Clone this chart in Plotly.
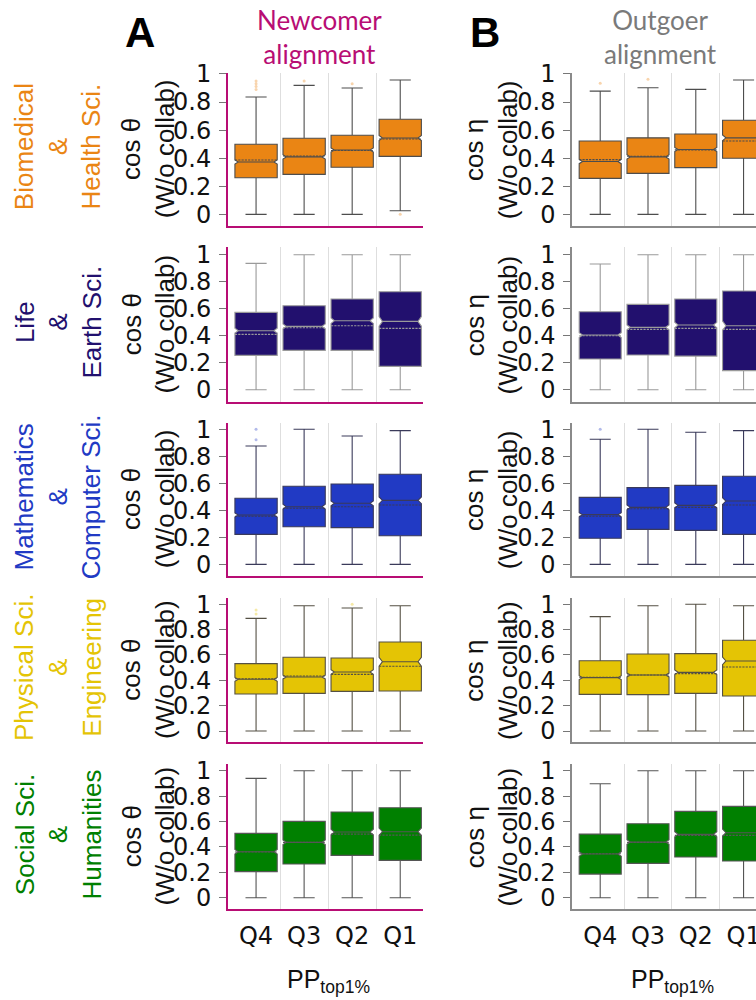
import plotly.graph_objects as go

# ---------------- data ----------------
categories = ["Q4", "Q3", "Q2", "Q1"]
field_labels = [
    "Biomedical<br>&<br>Health Sci.",
    "Life<br>&<br>Earth Sci.",
    "Mathematics<br>&<br>Computer Sci.",
    "Physical Sci.<br>&<br>Engineering",
    "Social Sci.<br>&<br>Humanities",
]
field_colors = ["#EA8514", "#22106E", "#213AC4", "#E4C405", "#008000"]
outline_colors = ["#4d4d4d", "#9a9a9a", "#3a3a5a", "#555044", "#555555"]

# Newcomer alignment (cos theta), rows = fields, cols = Q4..Q1
new_lower = [[0, 0, 0, 0.026], [0, 0, 0, 0], [0, 0, 0, 0], [0, 0, 0, 0], [0, 0, 0, 0]]
new_q1 = [[0.261, 0.285, 0.335, 0.413], [0.254, 0.291, 0.291, 0.173], [0.222, 0.279, 0.272, 0.212],
          [0.292, 0.297, 0.313, 0.316], [0.205, 0.265, 0.333, 0.294]]
new_median = [[0.373, 0.409, 0.458, 0.544], [0.437, 0.469, 0.511, 0.506], [0.365, 0.427, 0.452, 0.474],
              [0.408, 0.426, 0.466, 0.547], [0.362, 0.436, 0.517, 0.520]]
new_mean = [[0.387, 0.416, 0.455, 0.537], [0.410, 0.459, 0.474, 0.454], [0.356, 0.415, 0.427, 0.440],
            [0.413, 0.434, 0.447, 0.511], [0.360, 0.436, 0.501, 0.493]]
new_q3 = [[0.499, 0.542, 0.563, 0.677], [0.573, 0.622, 0.672, 0.726], [0.489, 0.578, 0.595, 0.667],
          [0.532, 0.582, 0.576, 0.703], [0.507, 0.601, 0.675, 0.709]]
new_upper = [[0.836, 0.919, 0.900, 0.957], [0.936, 1.0, 1.0, 1.0], [0.877, 1.0, 0.951, 0.990],
             [0.889, 0.989, 0.971, 0.989], [0.940, 1.0, 1.0, 1.0]]
new_notch = [[0.015, 0.015, 0.015, 0.018], [0.018, 0.018, 0.020, 0.035], [0.015, 0.018, 0.018, 0.025],
             [0.015, 0.015, 0.018, 0.035], [0.018, 0.018, 0.022, 0.028]]

# Outgoer alignment (cos eta)
out_lower = [[0, 0, 0, 0], [0, 0, 0, 0], [0, 0, 0, 0], [0, 0, 0, 0], [0, 0, 0, 0]]
out_q1 = [[0.256, 0.292, 0.333, 0.400], [0.227, 0.257, 0.249, 0.141], [0.193, 0.259, 0.252, 0.222],
          [0.289, 0.287, 0.297, 0.276], [0.186, 0.270, 0.320, 0.289]]
out_median = [[0.376, 0.409, 0.462, 0.545], [0.405, 0.462, 0.479, 0.474], [0.368, 0.422, 0.437, 0.469],
              [0.421, 0.442, 0.463, 0.553], [0.344, 0.438, 0.499, 0.512]]
out_mean = [[0.390, 0.414, 0.459, 0.522], [0.400, 0.447, 0.454, 0.447], [0.356, 0.412, 0.422, 0.440],
            [0.424, 0.442, 0.453, 0.505], [0.346, 0.436, 0.491, 0.491]]
out_q3 = [[0.522, 0.545, 0.572, 0.670], [0.578, 0.632, 0.672, 0.731], [0.496, 0.568, 0.585, 0.652],
          [0.555, 0.608, 0.611, 0.716], [0.501, 0.583, 0.680, 0.719]]
out_upper = [[0.878, 0.902, 0.890, 0.957], [0.931, 1.0, 1.0, 1.0], [0.926, 1.0, 0.978, 0.990],
             [0.903, 0.989, 1.0, 0.989], [0.898, 1.0, 1.0, 1.0]]
out_notch = [[0.015, 0.015, 0.015, 0.020], [0.018, 0.018, 0.020, 0.035], [0.015, 0.018, 0.018, 0.025],
             [0.015, 0.015, 0.018, 0.030], [0.018, 0.018, 0.020, 0.028]]

# faint outliers: (field row, category, value)
new_outliers = [(0, "Q4", 0.89), (0, "Q4", 0.91), (0, "Q4", 0.93), (0, "Q4", 0.95), (0, "Q3", 0.95),
                (0, "Q2", 0.93), (0, "Q1", 0.0), (2, "Q4", 0.923), (2, "Q4", 1.0),
                (3, "Q4", 0.924), (3, "Q4", 0.955), (3, "Q2", 1.0)]
out_outliers = [(0, "Q4", 0.933), (0, "Q3", 0.962), (2, "Q4", 1.0)]

y_ticks = [0, 0.2, 0.4, 0.6, 0.8, 1.0]
y_ticktext = ["0", "0.2", "0.4", "0.6", "0.8", "1"]

# ---------------- layout geometry ----------------
W, H = 756, 1000
MAGENTA = "#B80D74"
GREY_AX = "#8a8a8a"
row_px = [(72.7, 225.7), (247.3, 401.7), (422.7, 575.7), (597.7, 742.3), (764.0, 909.0)]
row_ranges = [(-0.081, 1.009), (-0.089, 1.055), (-0.084, 1.049), (-0.089, 1.052), (-0.089, 1.053)]
col_px = [(228.0, 423.3), (572.3, 756.0)]
col_xrange = [(-0.584, 3.48), (-0.584, 3.26)]

fig = go.Figure()
layout = {}
annotations = []
xpos = list(range(len(categories)))

cols = [
    dict(lower=new_lower, q1=new_q1, med=new_median, mean=new_mean, q3=new_q3, upper=new_upper,
         notch=new_notch, outl=new_outliers, axcol=MAGENTA, ytitle="cos θ"),
    dict(lower=out_lower, q1=out_q1, med=out_median, mean=out_mean, q3=out_q3, upper=out_upper,
         notch=out_notch, outl=out_outliers, axcol=GREY_AX, ytitle="cos η"),
]

idx = 0
for r in range(5):
    for c in range(2):
        idx += 1
        sfx = "" if idx == 1 else str(idx)
        d = cols[c]
        fig.add_trace(go.Box(
            x=xpos,
            lowerfence=d["lower"][r], q1=d["q1"][r], median=d["med"][r], mean=d["mean"][r],
            q3=d["q3"][r], upperfence=d["upper"][r], notchspan=d["notch"][r],
            notched=True, notchwidth=0.08, boxmean=True, width=0.88, whiskerwidth=0.5,
            fillcolor=field_colors[r], line=dict(color=outline_colors[r], width=1.1),
            xaxis="x" + sfx, yaxis="y" + sfx, showlegend=False, hoverinfo="skip",
        ))
        ox = [categories.index(o[1]) for o in d["outl"] if o[0] == r]
        oy = [o[2] for o in d["outl"] if o[0] == r]
        if ox:
            fig.add_trace(go.Scatter(
                x=ox, y=oy, mode="markers",
                marker=dict(size=3, color=field_colors[r], opacity=0.35),
                xaxis="x" + sfx, yaxis="y" + sfx, showlegend=False, hoverinfo="skip",
            ))
        top, bot = row_px[r]
        left, right = col_px[c]
        layout["xaxis" + sfx] = dict(
            domain=[left / W, right / W], range=list(col_xrange[c]), anchor="y" + sfx,
            automargin=False,
            showline=True, linecolor=d["axcol"], linewidth=2,
            tickmode="array", tickvals=xpos, ticktext=categories,
            showticklabels=(r == 4), ticks="", ticklabelstandoff=4, ticklabeloverflow="allow",
            tickfont=dict(family="DejaVu Sans", size=24, color="#111"),
            showgrid=False, zeroline=False,
            minor=dict(tickmode="array", tickvals=[i + 0.5 for i in xpos[:-1]], showgrid=True,
                       gridcolor="#dedede", gridwidth=1, ticks=""),
        )
        layout["yaxis" + sfx] = dict(
            domain=[1 - bot / H, 1 - top / H], range=list(row_ranges[r]), anchor="x" + sfx,
            automargin=False,
            showline=True, linecolor=d["axcol"], linewidth=2,
            tickmode="array", tickvals=y_ticks, ticktext=y_ticktext,
            ticks="outside", ticklen=7, tickwidth=1, tickcolor="#777", ticklabelstandoff=3,
            tickfont=dict(family="DejaVu Sans", size=24, color="#111"),
            showgrid=False, zeroline=False,
        )
        ytitle_x = [148, 491][c]
        annotations.append(dict(
            text=d["ytitle"] + "<br>(W/o collab)", textangle=-90, x=ytitle_x / W, y=1 - (top + bot) / 2 / H,
            xref="paper", yref="paper", xanchor="center", yanchor="middle", showarrow=False,
            font=dict(family="Liberation Sans, Arial", size=26, color="#111"),
        ))
    annotations.append(dict(
        text=field_labels[r], textangle=-90, x=58 / W, y=1 - ((row_px[r][0] + row_px[r][1]) / 2 - 2) / H,
        xref="paper", yref="paper", xanchor="center", yanchor="middle", showarrow=False,
        font=dict(family="Liberation Sans, Arial", size=26, color=field_colors[r]),
    ))

annotations += [
    dict(text="Newcomer<br>alignment", x=319.5 / W, y=1 - 37 / H, xref="paper", yref="paper",
         xanchor="center", yanchor="middle", showarrow=False,
         font=dict(family="Lato", size=26, color=MAGENTA)),
    dict(text="Outgoer<br>alignment", x=660 / W, y=1 - 37 / H, xref="paper", yref="paper",
         xanchor="center", yanchor="middle", showarrow=False,
         font=dict(family="Lato", size=26, color="#7a7a7a")),
    dict(text="<b>A</b>", x=140 / W, y=1 - 32 / H, xref="paper", yref="paper",
         xanchor="center", yanchor="middle", showarrow=False,
         font=dict(family="Liberation Sans, Arial", size=42, color="black")),
    dict(text="<b>B</b>", x=485 / W, y=1 - 32 / H, xref="paper", yref="paper",
         xanchor="center", yanchor="middle", showarrow=False,
         font=dict(family="Liberation Sans, Arial", size=42, color="black")),
    dict(text="PP<sub>top1%</sub>", x=328 / W, y=1 - 981 / H, xref="paper", yref="paper",
         xanchor="center", yanchor="middle", showarrow=False,
         font=dict(family="Liberation Sans, Arial", size=25, color="#111")),
    dict(text="PP<sub>top1%</sub>", x=672.5 / W, y=1 - 981 / H, xref="paper", yref="paper",
         xanchor="center", yanchor="middle", showarrow=False,
         font=dict(family="Liberation Sans, Arial", size=25, color="#111")),
]

fig.update_layout(
    width=W, height=H, margin=dict(l=0, r=0, t=0, b=0, autoexpand=False),
    paper_bgcolor="white", plot_bgcolor="white", showlegend=False,
    annotations=annotations, **layout,
)

fig.write_html("out.html", config={"displayModeBar": False},
               post_script="document.body.style.margin='0';")
